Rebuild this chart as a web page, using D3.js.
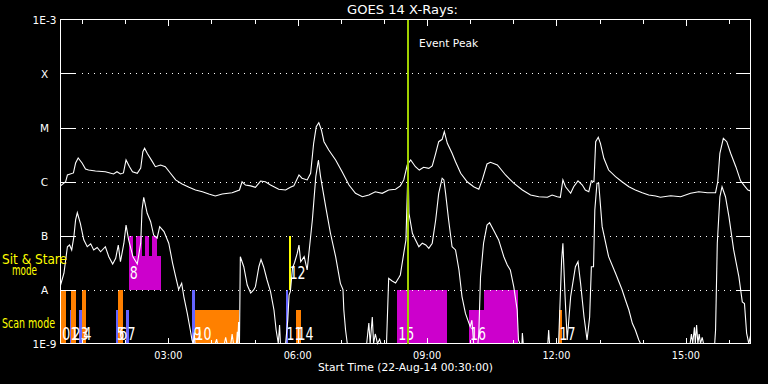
<!DOCTYPE html>
<html><head><meta charset="utf-8">
<script src="https://cdn.jsdelivr.net/npm/d3@7"></script>
<style>
html,body{margin:0;padding:0;background:#000;}
svg{display:block;background:#000;}
text{font-family:"DejaVu Sans",sans-serif;fill:#fff;}
</style></head><body>
<svg id="chart" width="768" height="384"></svg>
<script>
// ---------------- data ----------------
const chartTitle = "GOES 14 X-Rays:";
const startLabel = "Start Time (22-Aug-14 00:30:00)";
const dayStartUTC = Date.UTC(2014, 7, 22, 0, 0, 0);
const timeRangeHours = [0.5, 16.5];
const fluxLevels = [1e-9, 1e-8, 1e-7, 1e-6, 1e-5, 1e-4, 1e-3];
const fluxLabels = ["1E-9", "A", "B", "C", "M", "X", "1E-3"];
const eventPeakHour = 8.56;
const modeLabels = [["Sit & Stare", "mode"], ["Scan mode"]];

// GOES long channel (1-8 A), [hour, W/m^2]
const longChannel = [[0.50,8.3e-7],[0.62,9.9e-7],[0.66,1.32e-6],[0.80,1.44e-6],[0.85,2.2e-6],[0.91,2.72e-6],[1.00,2.2e-6],[1.08,1.70e-6],[1.15,1.63e-6],[1.31,1.56e-6],[1.54,1.52e-6],[1.73,1.38e-6],[1.81,1.52e-6],[1.89,1.38e-6],[1.96,1.44e-6],[2.02,2.5e-6],[2.10,1.88e-6],[2.17,1.52e-6],[2.28,1.42e-6],[2.36,1.78e-6],[2.41,3.56e-6],[2.45,4.12e-6],[2.51,3.33e-6],[2.63,2.33e-6],[2.70,1.88e-6],[2.82,2.02e-6],[2.93,1.88e-6],[3.05,1.42e-6],[3.17,1.07e-6],[3.32,9.0e-7],[3.48,7.8e-7],[3.63,6.96e-7],[3.79,6.47e-7],[3.94,5.87e-7],[4.09,5.39e-7],[4.25,5.87e-7],[4.48,6.2e-7],[4.65,6.96e-7],[4.71,9.9e-7],[4.79,8.6e-7],[4.91,8.3e-7],[5.02,7.8e-7],[5.14,1.02e-6],[5.25,9.9e-7],[5.37,8.6e-7],[5.56,7.2e-7],[5.72,6.96e-7],[5.83,7.8e-7],[5.91,8.3e-7],[6.03,1.32e-6],[6.10,1.15e-6],[6.22,1.07e-6],[6.30,1.42e-6],[6.37,5.1e-6],[6.43,1.03e-5],[6.49,1.23e-5],[6.55,9.0e-6],[6.61,5.46e-6],[6.72,3.83e-6],[6.88,2.5e-6],[7.03,1.52e-6],[7.19,8.6e-7],[7.34,6.04e-7],[7.50,5.23e-7],[7.65,5.62e-7],[7.80,6.47e-7],[7.96,6.04e-7],[8.11,6.96e-7],[8.27,7.2e-7],[8.38,8.3e-7],[8.46,1.07e-6],[8.54,2.02e-6],[8.62,2.5e-6],[8.73,1.88e-6],[8.82,1.63e-6],[8.92,1.83e-6],[9.04,1.75e-6],[9.12,1.94e-6],[9.20,3.33e-6],[9.27,5.46e-6],[9.35,6.04e-6],[9.40,8.36e-6],[9.47,5.1e-6],[9.58,3.33e-6],[9.66,2.33e-6],[9.78,1.42e-6],[9.93,9.9e-7],[10.08,8.0e-7],[10.20,7.2e-7],[10.28,1.07e-6],[10.39,2.11e-6],[10.47,2.27e-6],[10.63,2.02e-6],[10.82,1.32e-6],[11.01,9.3e-7],[11.21,6.96e-7],[11.40,5.62e-7],[11.59,5.23e-7],[11.79,5.1e-7],[11.90,5.62e-7],[12.02,5.23e-7],[12.09,5.1e-7],[12.15,1.07e-6],[12.21,8.0e-7],[12.33,6.04e-7],[12.40,8.0e-7],[12.50,1.03e-6],[12.60,8.6e-7],[12.67,6.96e-7],[12.75,6.47e-7],[12.81,1.03e-6],[12.87,9.9e-7],[12.91,5.46e-6],[12.97,6.59e-6],[13.02,5.1e-6],[13.10,2.69e-6],[13.21,1.63e-6],[13.37,1.23e-6],[13.52,9.9e-7],[13.68,8.0e-7],[13.83,6.96e-7],[13.99,6.2e-7],[14.14,5.62e-7],[14.30,5.39e-7],[14.41,5.1e-7],[14.65,5.46e-7],[14.88,5.23e-7],[15.11,6.04e-7],[15.30,6.47e-7],[15.50,6.2e-7],[15.69,6.2e-7],[15.74,9.9e-7],[15.79,3.33e-6],[15.87,6.31e-6],[15.95,5.46e-6],[16.04,3.33e-6],[16.16,1.88e-6],[16.27,1.03e-6],[16.36,8.3e-7],[16.44,6.96e-7],[16.50,6.7e-7]];

// GOES short channel (0.5-4 A), [hour, W/m^2]
const shortChannel = [[0.50,1.2e-8],[0.58,2.0e-8],[0.66,6.2e-8],[0.71,6.67e-8],[0.76,5.4e-8],[0.81,9.5e-8],[0.85,1.94e-7],[0.89,2.64e-7],[0.96,1.68e-7],[1.04,8.3e-8],[1.12,6.2e-8],[1.20,7.0e-8],[1.27,5.4e-8],[1.35,6.0e-8],[1.43,5.0e-8],[1.54,6.2e-8],[1.62,4.05e-8],[1.71,2.97e-8],[1.78,3.78e-8],[1.84,6.67e-8],[1.89,3.27e-8],[1.97,7.2e-8],[2.02,1.56e-7],[2.08,8.3e-8],[2.18,4.05e-8],[2.28,2.97e-8],[2.36,7.2e-8],[2.39,2.97e-7],[2.43,5.1e-7],[2.51,2.58e-7],[2.59,1.8e-7],[2.66,1.02e-7],[2.74,8.9e-8],[2.80,1.46e-7],[2.90,1.18e-7],[3.01,7.2e-8],[3.10,3.06e-8],[3.17,1.73e-8],[3.24,1.0e-8],[3.31,1.3e-8],[3.36,7.4e-9],[3.44,3.6e-9],[3.51,1.78e-9],[3.55,1.16e-9],[3.58,5e-10],[3.60,1.6e-9],[3.62,5e-10],[3.75,5e-10],[4.09,5e-10],[4.12,1.2e-9],[4.14,5e-10],[4.30,5e-10],[4.33,1.3e-9],[4.36,5e-10],[4.45,5e-10],[4.48,1.5e-9],[4.51,5e-10],[4.58,5e-10],[4.60,1.65e-9],[4.61,5e-10],[4.63,2.5e-9],[4.65,8e-10],[4.67,4.05e-8],[4.75,2.64e-8],[4.83,1.21e-8],[4.91,8.6e-9],[4.98,9.8e-9],[5.02,1.13e-8],[5.10,2.64e-8],[5.15,3.6e-8],[5.21,2.64e-8],[5.29,1.5e-8],[5.37,9.1e-9],[5.45,4.17e-9],[5.50,1.78e-9],[5.55,5e-10],[5.58,2.2e-9],[5.60,5e-10],[5.72,5e-10],[5.77,2.7e-9],[5.80,7.9e-9],[5.83,9.1e-9],[5.88,2.5e-8],[5.93,3.2e-8],[5.99,4.7e-8],[6.03,6.67e-8],[6.07,3.27e-8],[6.15,4.05e-8],[6.22,2.3e-8],[6.26,4.7e-8],[6.34,1.94e-7],[6.42,1.23e-6],[6.48,2.5e-6],[6.53,1.23e-6],[6.65,3.4e-7],[6.76,1.1e-7],[6.88,4.05e-8],[6.99,1.3e-8],[7.05,1.0e-8],[7.07,4.17e-9],[7.11,1.78e-9],[7.15,5e-10],[7.60,5e-10],[7.65,2.4e-9],[7.68,8e-10],[7.73,3.1e-9],[7.76,6e-10],[7.80,1.5e-9],[7.85,5e-10],[7.90,1.2e-9],[7.93,5e-10],[8.06,5e-10],[8.11,1.61e-8],[8.19,1.44e-8],[8.27,1.32e-8],[8.34,1.63e-8],[8.38,1.86e-8],[8.46,4.7e-8],[8.51,8.3e-8],[8.56,2.0e-6],[8.58,2.58e-7],[8.66,1.1e-7],[8.73,8.3e-8],[8.81,6.2e-8],[8.89,7.2e-8],[8.97,6.67e-8],[9.04,5.8e-8],[9.12,7.2e-8],[9.20,1.94e-7],[9.27,6.04e-7],[9.35,1.15e-6],[9.39,1.07e-6],[9.43,6.04e-7],[9.50,1.94e-7],[9.58,6.2e-8],[9.66,5.4e-8],[9.74,2.3e-8],[9.81,7.4e-9],[9.89,3.6e-9],[10.00,2.05e-9],[10.04,2.7e-9],[10.08,5e-10],[10.18,5e-10],[10.20,1.56e-9],[10.24,1.73e-8],[10.31,7.2e-8],[10.39,1.56e-7],[10.45,1.73e-7],[10.54,1.26e-7],[10.66,8.3e-8],[10.78,4.05e-8],[10.86,2.84e-8],[10.93,2.3e-8],[11.01,1.13e-8],[11.09,4.17e-9],[11.12,1.16e-9],[11.15,5e-10],[11.20,5e-10],[11.21,1.56e-9],[11.23,5e-10],[11.80,5e-10],[11.82,1.78e-9],[11.84,5e-10],[12.05,5e-10],[12.12,3.52e-8],[12.15,7.2e-8],[12.20,7.4e-9],[12.25,1.16e-9],[12.33,7.4e-9],[12.44,2.64e-8],[12.50,3.27e-8],[12.56,1.3e-8],[12.64,3.1e-9],[12.71,1.16e-9],[12.77,3.1e-9],[12.81,2.64e-8],[12.86,2.64e-8],[12.89,2.97e-7],[12.94,9.3e-7],[12.98,9.3e-7],[13.06,1.46e-7],[13.21,4.05e-8],[13.37,2.0e-8],[13.52,1.0e-8],[13.60,6.4e-9],[13.68,4.17e-9],[13.76,2.37e-9],[13.83,1.78e-9],[13.91,1.16e-9],[13.95,5e-10],[15.10,5e-10],[15.13,1.5e-9],[15.16,5e-10],[15.20,2.0e-9],[15.22,8e-10],[15.25,2.2e-9],[15.28,6e-10],[15.31,1.5e-9],[15.34,5e-10],[15.38,1.3e-9],[15.41,5e-10],[15.67,5e-10],[15.69,1.78e-9],[15.73,7.2e-8],[15.79,5.23e-7],[15.84,8.0e-7],[15.92,5.23e-7],[16.00,2.23e-7],[16.11,5.4e-8],[16.23,1.73e-8],[16.31,5.9e-9],[16.36,5.5e-9],[16.41,1.56e-9],[16.46,5e-10],[16.50,1.4e-9]];

// Observations: start/end hour, mode band, instrument kind, full or partial block, label
const observations = [
  {start:0.52, end:0.62, band:"scan", kind:"k1", full:true,  label:"0"},
  {start:0.71, end:0.755,band:"scan", kind:"k2", full:false, label:"1"},
  {start:0.755,end:0.87, band:"scan", kind:"k1", full:true,  label:"2"},
  {start:0.94, end:0.99, band:"scan", kind:"k2", full:false, label:"3"},
  {start:1.01, end:1.10, band:"scan", kind:"k1", full:true,  label:"4"},
  {start:1.78, end:1.82, band:"scan", kind:"k2", full:false, label:"5"},
  {start:1.84, end:1.94, band:"scan", kind:"k1", full:true,  label:"6"},
  {start:2.03, end:2.08, band:"scan", kind:"k2", full:false, label:"7"},
  {start:2.08, end:2.82, band:"sit",  kind:"k3", full:false, label:"8"},
  {start:2.08, end:2.19, band:"sit",  kind:"k3", full:true,  label:""},
  {start:2.26, end:2.38, band:"sit",  kind:"k3", full:true,  label:""},
  {start:2.45, end:2.56, band:"sit",  kind:"k3", full:true,  label:""},
  {start:2.63, end:2.73, band:"sit",  kind:"k3", full:true,  label:""},
  {start:3.56, end:3.61, band:"scan", kind:"k2", full:true,  label:"9"},
  {start:3.61, end:4.65, band:"scan", kind:"k1", full:false, label:"10"},
  {start:5.72, end:5.77, band:"scan", kind:"k2", full:true,  label:"11"},
  {start:5.79, end:5.83, band:"sit",  kind:"k4", full:true,  label:"12"},
  {start:5.97, end:6.07, band:"scan", kind:"k1", full:false, label:"14"},
  {start:8.31, end:9.47, band:"scan", kind:"k3", full:true,  label:"15"},
  {start:9.97, end:10.33,band:"scan", kind:"k3", full:false, label:"16"},
  {start:10.33,end:11.11,band:"scan", kind:"k3", full:true,  label:""},
  {start:12.05,end:12.13,band:"scan", kind:"k1", full:false, label:"17"}
];
const kindNames = ["k1","k2","k3","k4"];
const kindColors = ["#ff8000","#6464ff","#cc00cc","#ffff00"];

// ---------------- drawing ----------------
const svg = d3.select("#chart");
const toDate = h => new Date(dayStartUTC + h * 3600e3);
const x = d3.scaleUtc().domain(timeRangeHours.map(toDate)).range([60.5, 750.5]);
const y = d3.scaleLog().domain([1e-9, 1e-3]).range([343.5, 19.5]).clamp(true);
const color = d3.scaleOrdinal().domain(kindNames).range(kindColors);
const L = x.range()[0], R = x.range()[1], T = y.range()[1], B = y.range()[0];

// band geometry in flux units
const bands = {
  scan: {bottom: 1e-9, fullTop: 1e-8, partTop: Math.pow(10, -8.38), labelOff: 4},
  sit:  {bottom: 1e-8, fullTop: 1e-7, partTop: Math.pow(10, -7.38), labelOff: 11}
};

// observation blocks
const gObs = svg.append("g").attr("shape-rendering", "crispEdges");
gObs.selectAll("rect").data(observations).join("rect")
  .attr("x", d => Math.round(x(toDate(d.start))))
  .attr("width", d => Math.max(2, Math.round(x(toDate(d.end))) - Math.round(x(toDate(d.start)))))
  .attr("y", d => y(d.full ? bands[d.band].fullTop : bands[d.band].partTop))
  .attr("height", d => y(bands[d.band].bottom) - y(d.full ? bands[d.band].fullTop : bands[d.band].partTop))
  .attr("fill", d => color(d.kind));

// curves
const line = d3.line().x(d => x(toDate(d[0]))).y(d => y(d[1]));
svg.append("path").datum(longChannel).attr("d", line)
  .attr("fill", "none").attr("stroke", "#fff").attr("stroke-width", 1.1);
svg.append("path").datum(shortChannel).attr("d", line)
  .attr("fill", "none").attr("stroke", "#fff").attr("stroke-width", 1.1);

// observation labels (they overlap in the original plot as well)
svg.append("g").selectAll("text").data(observations.filter(d => d.label)).join("text")
  .attr("x", d => x(toDate(d.start)) + 1)
  .attr("y", d => y(bands[d.band].bottom) - bands[d.band].labelOff)
  .attr("font-size", 17)
  .attr("textLength", d => 8 * d.label.length).attr("lengthAdjust", "spacingAndGlyphs")
  .text(d => d.label);

// axes / grid
const gAx = svg.append("g").attr("shape-rendering", "crispEdges").attr("stroke", "#fff").attr("fill", "none");
gAx.append("rect").attr("x", L).attr("y", T).attr("width", R - L).attr("height", B - T).attr("stroke-width", 1);
fluxLevels.slice(1, -1).forEach(v => {
  const yy = Math.round(y(v)) + 0.5;
  gAx.append("line").attr("x1", L).attr("x2", L + 15).attr("y1", yy).attr("y2", yy);
  gAx.append("line").attr("x1", R - 15).attr("x2", R).attr("y1", yy).attr("y2", yy);
  gAx.append("line").attr("x1", L + 21).attr("x2", R - 15).attr("y1", yy).attr("y2", yy)
    .attr("stroke-dasharray", "1,5");
});
const hourTicks = x.ticks(d3.utcHour.every(1)).filter(t => +t > +x.domain()[0] && +t < +x.domain()[1]);
hourTicks.forEach(t => {
  const xx = Math.round(x(t)) + 0.5;
  const len = t.getUTCHours() % 3 === 0 ? 6 : 4;
  gAx.append("line").attr("x1", xx).attr("x2", xx).attr("y1", T).attr("y2", T + len);
  gAx.append("line").attr("x1", xx).attr("x2", xx).attr("y1", B).attr("y2", B - len);
});

// tick labels
const fmt = d3.utcFormat("%H:%M");
svg.append("g").selectAll("text").data(hourTicks.filter(t => t.getUTCHours() % 3 === 0)).join("text")
  .attr("x", d => x(d)).attr("y", 358.5).attr("text-anchor", "middle")
  .attr("font-size", 10.5).attr("textLength", 28).attr("lengthAdjust", "spacingAndGlyphs")
  .text(d => fmt(d));
svg.append("g").selectAll("text").data(fluxLevels).join("text")
  .attr("x", 44.5).attr("y", d => y(d) + 4).attr("text-anchor", "middle")
  .attr("font-size", 10.5)
  .text((d, i) => fluxLabels[i]);

// titles
svg.append("text").attr("x", (L + R) / 2 - 3).attr("y", 14).attr("text-anchor", "middle")
  .attr("font-size", 13).attr("textLength", 111).attr("lengthAdjust", "spacingAndGlyphs").text(chartTitle);
svg.append("text").attr("x", (L + R) / 2).attr("y", 371).attr("text-anchor", "middle")
  .attr("font-size", 11).attr("textLength", 175).attr("lengthAdjust", "spacingAndGlyphs").text(startLabel);

// mode labels
const gMode = svg.append("g");
gMode.append("text").attr("x", 2).attr("y", 264).attr("font-size", 14)
  .attr("textLength", 65).attr("lengthAdjust", "spacingAndGlyphs").style("fill", "#ffff00").text(modeLabels[0][0]);
gMode.append("text").attr("x", 12).attr("y", 275).attr("font-size", 14)
  .attr("textLength", 25).attr("lengthAdjust", "spacingAndGlyphs").style("fill", "#ffff00").text(modeLabels[0][1]);
gMode.append("text").attr("x", 2).attr("y", 328).attr("font-size", 14)
  .attr("textLength", 53).attr("lengthAdjust", "spacingAndGlyphs").style("fill", "#ffff00").text(modeLabels[1][0]);

// event peak
const xe = x(toDate(eventPeakHour));
svg.append("line").attr("x1", xe).attr("x2", xe).attr("y1", T).attr("y2", B)
  .attr("stroke", "#a0d000").attr("stroke-width", 2).attr("shape-rendering", "crispEdges");
svg.append("text").attr("x", xe + 11).attr("y", 46.5).attr("font-size", 11)
  .attr("textLength", 59).attr("lengthAdjust", "spacingAndGlyphs").text("Event Peak");
</script>
</body></html>
